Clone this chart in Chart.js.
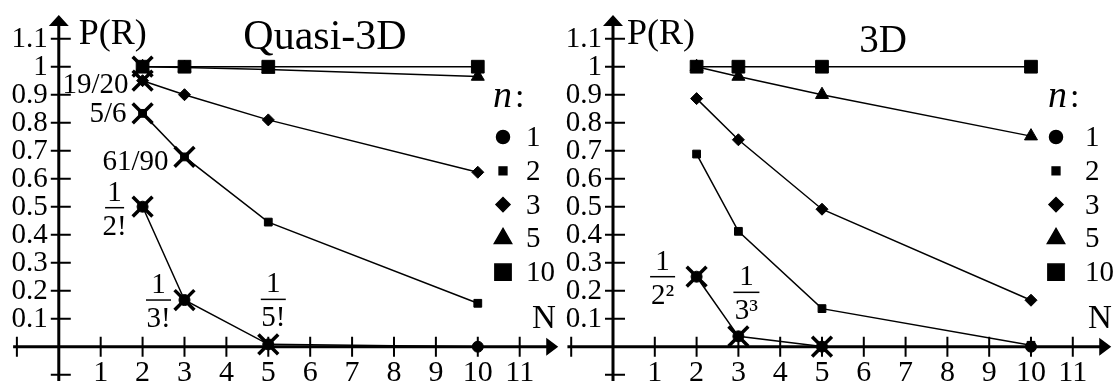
<!DOCTYPE html>
<html>
<head>
<meta charset="utf-8">
<title>P(R) vs N</title>
<script src="https://cdn.jsdelivr.net/npm/chart.js@4.4.1/dist/chart.umd.min.js"></script>
<style>
  html, body { margin: 0; padding: 0; background: #fff; }
  #wrap { display: flex; width: 1114px; height: 381px; overflow: hidden; }
  canvas { display: block; }
</style>
</head>
<body>
<div id="wrap">
  <canvas id="quasi" width="560" height="381"></canvas>
  <canvas id="full" width="554" height="381"></canvas>
</div>
<script>
// N values where each series was computed
const sizes = [2, 3, 5, 10];
const nLabels = ['1', '2', '3', '5', '10'];

// Quasi-3D, one array per n
const quasiN1 = [1 / 2, 1 / 6, 1 / 120, 0];
const quasiN2 = [5 / 6, 61 / 90, 0.445, 0.155];
const quasiN3 = [19 / 20, 0.90, 0.81, 0.623];
const quasiN5 = [1, 0.997, 0.99, 0.965];
const quasiN10 = [1, 1, 1, 1];

// exact values (crosses) for Quasi-3D
const quasiExactN = [2, 2, 2, 2, 3, 3, 5];
const quasiExactP = [1, 19 / 20, 5 / 6, 1 / 2, 61 / 90, 1 / 6, 1 / 120];
const quasiRatioText = ['19/20', '5/6', '61/90'];
const quasiRatioN = [2, 2, 3];
const quasiRatioP = [19 / 20, 5 / 6, 61 / 90];
const quasiFracDen = ['2!', '3!', '5!'];
const quasiFracN = [2, 3, 5];
const quasiFracP = [1 / 2, 1 / 6, 1 / 120];

// 3D, one array per n
const fullN1 = [1 / 4, 1 / 27, 1 / 3125, 0];
const fullN2 = [0.688, 0.412, 0.136, 0.005];
const fullN3 = [0.886, 0.739, 0.491, 0.166];
const fullN5 = [1, 0.965, 0.90, 0.752];
const fullN10 = [1, 1, 1, 1];

const fullExactN = [2, 3, 5];
const fullExactP = [1 / 4, 1 / 27, 1 / 3125];
const fullFracDen = ['2\u00B2', '3\u00B3'];
const fullFracN = [2, 3];
const fullFracP = [1 / 4, 1 / 27];

// axis ticks
const xTicks = [-1, 1, 2, 3, 4, 5, 6, 7, 8, 9, 10, 11];
const xTickLabels = ['', '1', '2', '3', '4', '5', '6', '7', '8', '9', '10', '11'];
const yTicks = [-0.1, 0.1, 0.2, 0.3, 0.4, 0.5, 0.6, 0.7, 0.8, 0.9, 1, 1.1];
const yTickLabels = ['', '0.1', '0.2', '0.3', '0.4', '0.5', '0.6', '0.7', '0.8', '0.9', '1', '1.1'];

const serif = '"Liberation Serif", "Times New Roman", serif';
const ink = '#000';

// marker look per n (same order as nLabels)
const markers = [
  { style: 'circle', radius: 5.5, legendRadius: 6.5 },
  { style: 'rect', radius: 5.5, legendRadius: 5.5 },
  { style: 'rectRot', radius: 6, legendRadius: 7 },
  { style: 'triangle', radius: 7.5, legendRadius: 10 },
  { style: 'rect', radius: 9, legendRadius: 11.5 }
];

function toPoints(xs, ys) {
  return xs.map((x, i) => ({ x: x, y: ys[i] }));
}

function buildDatasets(series, exactN, exactP) {
  const sets = [{
    data: toPoints(exactN, exactP),
    showLine: false,
    pointStyle: 'crossRot',
    pointRadius: 14,
    pointBorderWidth: 3.5,
    pointBorderColor: ink,
    pointBackgroundColor: ink,
    clip: false
  }];
  series.forEach((vals, i) => {
    sets.push({
      data: toPoints(sizes, vals),
      borderColor: ink,
      borderWidth: 1.5,
      pointStyle: markers[i].style,
      pointRadius: markers[i].radius,
      pointBorderWidth: 1,
      pointBorderColor: ink,
      pointBackgroundColor: ink,
      tension: 0,
      clip: false
    });
  });
  return sets;
}

const panels = {
  quasi: {
    title: 'Quasi-3D', titleFont: '42px', titleX: 325, titleY: 49,
    xMin: -1.403, xMax: 11.962,
    yLabelX: 20, nLabelX: 532,
    legendHeadX: 493, legendMarkX: 503, legendTextX: 526,
    series: [quasiN1, quasiN2, quasiN3, quasiN5, quasiN10],
    exactN: quasiExactN, exactP: quasiExactP,
    ratios: quasiRatioText.map((t, i) => ({ text: t, n: quasiRatioN[i], p: quasiRatioP[i] })),
    ratioOffsets: [[-14, 12], [-16, 9], [-16, 13]],
    fracs: quasiFracDen.map((t, i) => ({ den: t, n: quasiFracN[i], p: quasiFracP[i] })),
    fracOffsets: [[-28, 1], [-26, 0], [5, -45]],
    fracWidths: [19, 25, 25]
  },
  full: {
    title: '3D', titleFont: '39px', titleX: 323, titleY: 52,
    xMin: -1.268, xMax: 11.986,
    yLabelX: 14, nLabelX: 528,
    legendHeadX: 488, legendMarkX: 496, legendTextX: 525,
    series: [fullN1, fullN2, fullN3, fullN5, fullN10],
    exactN: fullExactN, exactP: fullExactP,
    ratios: [],
    ratioOffsets: [],
    fracs: fullFracDen.map((t, i) => ({ den: t, n: fullFracN[i], p: fullFracP[i] })),
    fracOffsets: [[-34, 0], [8, -44]],
    fracWidths: [25, 26]
  }
};

// arrowed axes crossing at the origin, drawn under the series
const axesPlugin = {
  id: 'axes',
  beforeDatasetsDraw(chart) {
    const ctx = chart.ctx;
    const xs = chart.scales.x, ys = chart.scales.y;
    const x0 = xs.getPixelForValue(0), y0 = ys.getPixelForValue(0);
    const xStart = xs.getPixelForValue(-1.09), xTip = xs.getPixelForValue(11.92);
    const yTip = ys.getPixelForValue(1.185), yBottom = chart.height;
    ctx.save();
    ctx.strokeStyle = ink;
    ctx.fillStyle = ink;
    ctx.lineWidth = 3;
    ctx.beginPath();
    ctx.moveTo(xStart, y0);
    ctx.lineTo(xTip - 8, y0);
    ctx.moveTo(x0, yBottom);
    ctx.lineTo(x0, yTip + 8);
    ctx.stroke();

    ctx.beginPath();
    ctx.moveTo(xTip, y0);
    ctx.lineTo(xTip - 12, y0 - 9);
    ctx.lineTo(xTip - 12, y0 + 9);
    ctx.closePath();
    ctx.moveTo(x0, yTip);
    ctx.lineTo(x0 - 10, yTip + 11);
    ctx.lineTo(x0 + 10, yTip + 11);
    ctx.closePath();
    ctx.fill();

    ctx.lineWidth = 2;
    ctx.beginPath();
    xTicks.forEach(v => {
      const px = xs.getPixelForValue(v);
      ctx.moveTo(px, y0 - 10);
      ctx.lineTo(px, y0 + 10);
    });
    yTicks.forEach(v => {
      const py = ys.getPixelForValue(v);
      ctx.moveTo(x0 - 8, py);
      ctx.lineTo(x0 + 12, py);
    });
    ctx.stroke();

    ctx.textBaseline = 'alphabetic';
    ctx.font = '30px ' + serif;
    ctx.textAlign = 'center';
    xTicks.forEach((v, i) => {
      ctx.fillText(xTickLabels[i], xs.getPixelForValue(v), 381);
    });
    ctx.font = '29px ' + serif;
    ctx.textAlign = 'right';
    yTicks.forEach((v, i) => {
      ctx.fillText(yTickLabels[i], x0 - 11, ys.getPixelForValue(v) + 8);
    });
    ctx.restore();
  }
};

// titles, axis names, value notes and the n legend
const notesPlugin = {
  id: 'notes',
  afterDatasetsDraw(chart) {
    const cfg = panels[chart.canvas.id];
    const ctx = chart.ctx;
    const xs = chart.scales.x, ys = chart.scales.y;
    const x0 = xs.getPixelForValue(0);
    ctx.save();
    ctx.fillStyle = ink;
    ctx.strokeStyle = ink;
    ctx.textBaseline = 'alphabetic';

    ctx.font = cfg.titleFont + ' ' + serif;
    ctx.textAlign = 'center';
    ctx.fillText(cfg.title, cfg.titleX, cfg.titleY);

    ctx.font = '36px ' + serif;
    ctx.textAlign = 'left';
    ctx.fillText('P(R)', x0 + cfg.yLabelX, 44);
    ctx.font = '33px ' + serif;
    ctx.fillText('N', cfg.nLabelX, 328);

    ctx.font = '29px ' + serif;
    ctx.textAlign = 'right';
    cfg.ratios.forEach((r, i) => {
      const [dx, dy] = cfg.ratioOffsets[i];
      ctx.fillText(r.text, xs.getPixelForValue(r.n) + dx, ys.getPixelForValue(r.p) + dy);
    });

    ctx.textAlign = 'center';
    ctx.lineWidth = 1.5;
    cfg.fracs.forEach((f, i) => {
      const [dx, dy] = cfg.fracOffsets[i];
      const cx = xs.getPixelForValue(f.n) + dx;
      const by = ys.getPixelForValue(f.p) + dy;
      const w = cfg.fracWidths[i];
      ctx.beginPath();
      ctx.moveTo(cx - w / 2, by);
      ctx.lineTo(cx + w / 2, by);
      ctx.stroke();
      ctx.fillText('1', cx, by - 7);
      ctx.fillText(f.den, cx, by + 27);
    });

    // legend
    ctx.font = 'italic 38px ' + serif;
    ctx.textAlign = 'left';
    ctx.fillText('n', cfg.legendHeadX, 107);
    ctx.font = '34px ' + serif;
    ctx.fillText(':', cfg.legendHeadX + 22, 107);
    ctx.font = '29px ' + serif;
    nLabels.forEach((lab, i) => {
      const y = 137 + i * 33.8;
      Chart.helpers.drawPoint(ctx, {
        pointStyle: markers[i].style,
        radius: markers[i].legendRadius,
        rotation: 0,
        borderWidth: 1
      }, cfg.legendMarkX, y);
      ctx.fillText(lab, cfg.legendTextX, y + 9);
    });
    ctx.restore();
  }
};

function makeChart(id) {
  const cfg = panels[id];
  return new Chart(document.getElementById(id), {
    type: 'line',
    data: { datasets: buildDatasets(cfg.series, cfg.exactN, cfg.exactP) },
    options: {
      responsive: false,
      animation: false,
      devicePixelRatio: 1,
      layout: { padding: 0, autoPadding: false },
      scales: {
        x: { type: 'linear', min: cfg.xMin, max: cfg.xMax, display: false },
        y: { type: 'linear', min: -0.1225, max: 1.2382, display: false }
      },
      plugins: {
        legend: { display: false },
        tooltip: { enabled: false },
        title: { display: false }
      },
      events: []
    },
    plugins: [axesPlugin, notesPlugin]
  });
}

makeChart('quasi');
makeChart('full');
</script>
</body>
</html>
